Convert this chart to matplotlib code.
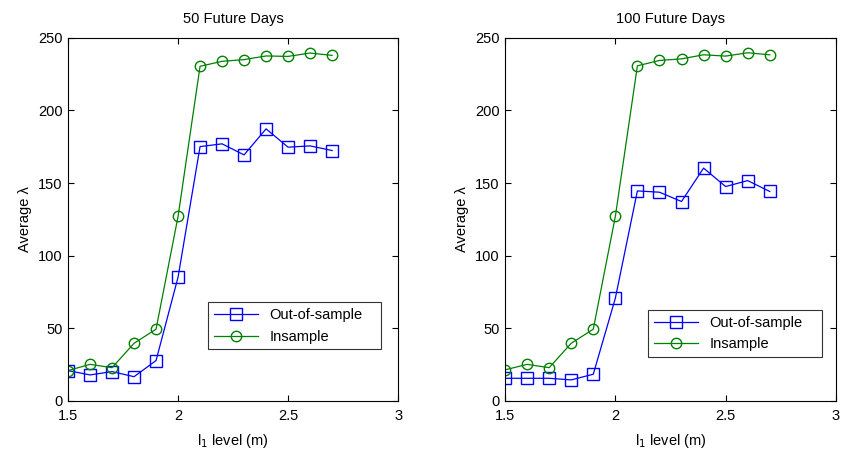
import matplotlib
matplotlib.use("Agg")
import matplotlib.pyplot as plt

plt.rcParams['font.family'] = ['Liberation Sans', 'DejaVu Sans']

levels = [1.5, 1.6, 1.7, 1.8, 1.9, 2.0, 2.1, 2.2, 2.3, 2.4, 2.5, 2.6, 2.7]
out50 = [20.9, 17.9, 20.2, 16.7, 27.8, 85.2, 175.1, 177.0, 169.4, 187.3, 174.7, 175.6, 172.4]
in50 = [20.9, 25.2, 22.9, 39.7, 49.4, 127.0, 230.4, 233.8, 235.0, 237.5, 237.2, 239.5, 237.9]
out100 = [15.6, 15.6, 15.6, 14.5, 18.4, 70.7, 144.6, 143.7, 137.3, 160.3, 147.6, 151.7, 144.2]
in100 = [21.4, 25.2, 22.9, 39.7, 49.4, 127.0, 230.7, 234.4, 235.5, 238.3, 237.4, 239.7, 238.3]
titles = ["50 Future Days", "100 Future Days"]
xticks = [1.5, 2, 2.5, 3]
xticklabels = ["1.5", "2", "2.5", "3"]
yticks = [0, 50, 100, 150, 200, 250]

fig = plt.figure(figsize=(8.42, 4.5), dpi=100)
axes = [fig.add_axes([0.0808, 0.109, 0.392, 0.807]),
        fig.add_axes([0.5998, 0.109, 0.393, 0.807])]
legend_boxes = [(0.424, 0.132, 0.524, 0.149), (0.432, 0.113, 0.526, 0.146)]
data = [(out50, in50), (out100, in100)]

for ax, title, (o, i), lb in zip(axes, titles, data, legend_boxes):
    ax.plot(levels, o, color='#0000ff', marker='s', markersize=8, markerfacecolor='none',
            markeredgewidth=1.0, linewidth=0.9, label='Out-of-sample')
    ax.plot(levels, i, color='#008000', marker='o', markersize=7.5, markerfacecolor='none',
            markeredgewidth=1.0, linewidth=0.9, label='Insample')
    ax.set_xlim(1.5, 3)
    ax.set_ylim(0, 250)
    ax.set_xticks(xticks)
    ax.set_xticklabels(xticklabels)
    ax.set_yticks(yticks)
    ax.tick_params(direction='in', top=True, right=True, labelsize=10.5, length=4, width=0.8)
    ax.tick_params(axis='x', pad=6)
    ax.tick_params(axis='y', pad=4)
    for s in ax.spines.values():
        s.set_linewidth(0.8)
    ax.set_title(title, fontsize=10.5, pad=11)
    ax.set_xlabel(r'l$_1$ level (m)', fontsize=10.5, labelpad=6)
    ax.set_ylabel('Average λ', fontsize=10.5)
    leg = ax.legend(loc='center', bbox_to_anchor=lb, mode='expand', fontsize=10.5,
                    frameon=True, fancybox=False, edgecolor='black', handlelength=3,
                    borderaxespad=0)
    leg.get_frame().set_linewidth(0.8)

fig.savefig('out.png', dpi=100)
